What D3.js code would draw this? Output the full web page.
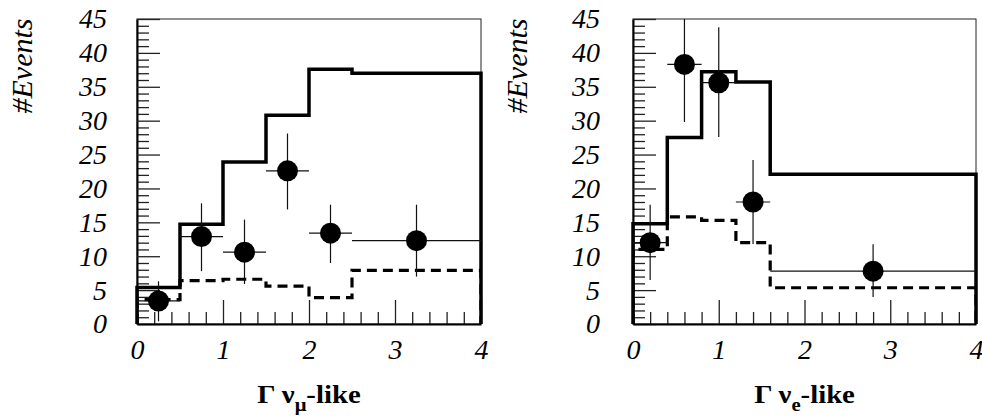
<!DOCTYPE html>
<html>
<head>
<meta charset="utf-8">
<script src="https://cdn.jsdelivr.net/npm/d3@7"></script>
<style>
  html, body { margin: 0; padding: 0; background: #fff; }
  svg { display: block; }
</style>
</head>
<body>
<svg id="chart" width="982" height="419"></svg>
<script>
// ---------- data ----------
const yTicks = [0, 5, 10, 15, 20, 25, 30, 35, 40, 45];
const xTicks = [0, 1, 2, 3, 4];

// left panel: nu_mu-like
const muEdges = [0, 0.5, 1.0, 1.5, 2.0, 2.5, 4.0];
const muSolid = [5.4, 14.7, 23.9, 30.8, 37.6, 37.0];
const muDashed = [3.6, 6.4, 6.6, 5.6, 3.9, 7.9];
const muPtX = [0.25, 0.75, 1.25, 1.75, 2.25, 3.25];
const muPtY = [3.4, 12.9, 10.6, 22.6, 13.4, 12.3];
const muPtLo = [0.4, 7.8, 5.9, 16.9, 9.0, 7.0];
const muPtHi = [6.3, 17.8, 15.4, 28.1, 17.6, 17.6];

// right panel: nu_e-like
const eEdges = [0, 0.4, 0.8, 1.2, 1.6, 4.0];
const eSolid = [14.8, 27.5, 37.2, 35.7, 22.1];
const eDashed = [11.0, 15.8, 15.3, 12.0, 5.35];
const ePtX = [0.2, 0.6, 1.0, 1.4, 2.8];
const ePtY = [12.0, 38.3, 35.6, 18.0, 7.8];
const ePtLo = [6.5, 29.8, 27.6, 11.8, 4.0];
const ePtHi = [17.6, 46.0, 43.8, 24.2, 11.75];

const yLabel = "#Events";

// ---------- drawing ----------
const FONT = "'Liberation Serif'";
const svg = d3.select("#chart");
const plotTop = 19, plotBottom = 324;

function panel(opt) {
  const x = d3.scaleLinear().domain([0, 4]).range([opt.x0, opt.x1]);
  const y = d3.scaleLinear().domain([0, 45]).range([plotBottom, plotTop]);
  const g = svg.append("g");
  const clipId = "clip" + opt.id;
  svg.append("clipPath").attr("id", clipId).append("rect")
    .attr("x", opt.x0).attr("y", plotTop).attr("width", opt.x1 - opt.x0).attr("height", plotBottom - plotTop);

  // frame (top, right)
  g.append("rect").attr("x", opt.x0).attr("y", plotTop)
    .attr("width", opt.x1 - opt.x0).attr("height", plotBottom - plotTop)
    .attr("fill", "none").attr("stroke", "#222").attr("stroke-width", 1);

  // minor ticks
  const yMinor = d3.range(0, 46, 1).filter(v => v % 5 !== 0);
  g.append("g").attr("transform", `translate(${opt.x0},0)`)
    .call(d3.axisLeft(y).tickValues(yMinor).tickSize(-12).tickSizeOuter(0).tickFormat(""))
    .call(a => a.select(".domain").remove())
    .call(a => a.selectAll("line").attr("stroke", "#222").attr("stroke-width", 1.3));
  const xMinor = d3.range(0, 4.01, 0.2).filter(v => Math.abs(v - Math.round(v)) > 1e-6);
  g.append("g").attr("transform", `translate(0,${plotBottom})`)
    .call(d3.axisBottom(x).tickValues(xMinor).tickSize(-12).tickSizeOuter(0).tickFormat(""))
    .call(a => a.select(".domain").remove())
    .call(a => a.selectAll("line").attr("stroke", "#222").attr("stroke-width", 1.3));

  // major ticks with labels
  g.append("g").attr("transform", `translate(${opt.x0},0)`)
    .attr("font-family", null).attr("font-size", null)
    .call(d3.axisLeft(y).tickValues(yTicks).tickSize(-23).tickSizeOuter(0).tickPadding(opt.yPad).tickFormat(d3.format("d")))
    .call(a => a.select(".domain").attr("stroke", "#000").attr("stroke-width", 2))
    .call(a => a.selectAll("line").attr("stroke", "#222").attr("stroke-width", 1.3))
    .call(a => a.selectAll("text").style("font-family", FONT)
      .style("font-style", "italic").style("font-size", "28px").attr("fill", "#000"));
  g.append("g").attr("transform", `translate(0,${plotBottom})`)
    .call(d3.axisBottom(x).tickValues(xTicks).tickSize(-24).tickSizeOuter(0).tickPadding(15).tickFormat(d3.format("d")))
    .call(a => a.select(".domain").attr("stroke", "#000").attr("stroke-width", 2))
    .call(a => a.selectAll("line").attr("stroke", "#222").attr("stroke-width", 1.3))
    .call(a => a.selectAll("text").style("font-family", FONT)
      .style("font-style", "italic").style("font-size", "28px").attr("fill", "#000"));

  // histograms
  function stepPath(edges, vals) {
    const pts = [[edges[0], 0]];
    vals.forEach((v, i) => { pts.push([edges[i], v]); pts.push([edges[i + 1], v]); });
    pts.push([edges[edges.length - 1], 0]);
    return d3.line().x(d => x(d[0])).y(d => y(d[1]))(pts);
  }
  g.append("path").attr("d", stepPath(opt.edges, opt.dashed))
    .attr("fill", "none").attr("stroke", "#000").attr("stroke-width", 3.2)
    .attr("stroke-dasharray", "10,6").attr("clip-path", `url(#${clipId})`);
  g.append("path").attr("d", stepPath(opt.edges, opt.solid))
    .attr("fill", "none").attr("stroke", "#000").attr("stroke-width", 3.5)
    .attr("stroke-linejoin", "miter");

  // data points with errors
  const pts = opt.px.map((v, i) => ({
    x: v, y: opt.py[i], lo: opt.plo[i], hi: opt.phi[i],
    xl: opt.edges[i], xh: opt.edges[i + 1]
  }));
  const pg = g.append("g").attr("clip-path", `url(#${clipId})`);
  pg.selectAll("line.v").data(pts).join("line").attr("class", "v")
    .attr("x1", d => x(d.x)).attr("x2", d => x(d.x))
    .attr("y1", d => y(d.lo)).attr("y2", d => y(d.hi))
    .attr("stroke", "#111").attr("stroke-width", 1.2);
  pg.selectAll("line.h").data(pts).join("line").attr("class", "h")
    .attr("x1", d => x(d.xl)).attr("x2", d => x(d.xh))
    .attr("y1", d => y(d.y)).attr("y2", d => y(d.y))
    .attr("stroke", "#111").attr("stroke-width", 1.2);
  pg.selectAll("circle").data(pts).join("circle")
    .attr("cx", d => x(d.x)).attr("cy", d => y(d.y)).attr("r", 10.5)
    .attr("fill", "#000");

  // y title
  svg.append("text")
    .attr("transform", `translate(${opt.yTitleX},66) rotate(-90)`)
    .attr("text-anchor", "middle")
    .style("font-family", FONT).style("font-style", "italic").style("font-size", "30px")
    .attr("fill", "#000")
    .text(yLabel);

  // x title
  const t = svg.append("text")
    .attr("transform", `translate(${(opt.x0 + opt.x1) / 2},403) scale(1.15,1)`)
    .attr("text-anchor", "middle")
    .style("font-family", FONT).style("font-weight", "bold").style("font-size", "25px")
    .attr("fill", "#000");
  t.append("tspan").text("\u0393 \u03BD");
  t.append("tspan").attr("dy", 8).style("font-size", "18px").text(opt.sub);
  t.append("tspan").attr("dy", -8).text("-like");
}

panel({ id: "L", x0: 137, x1: 481, yPad: 30, yTitleX: 32,
  edges: muEdges, solid: muSolid, dashed: muDashed,
  px: muPtX, py: muPtY, plo: muPtLo, phi: muPtHi, sub: "\u03BC" });
panel({ id: "R", x0: 633, x1: 976, yPad: 33, yTitleX: 527,
  edges: eEdges, solid: eSolid, dashed: eDashed,
  px: ePtX, py: ePtY, plo: ePtLo, phi: ePtHi, sub: "e" });
</script>
</body>
</html>
